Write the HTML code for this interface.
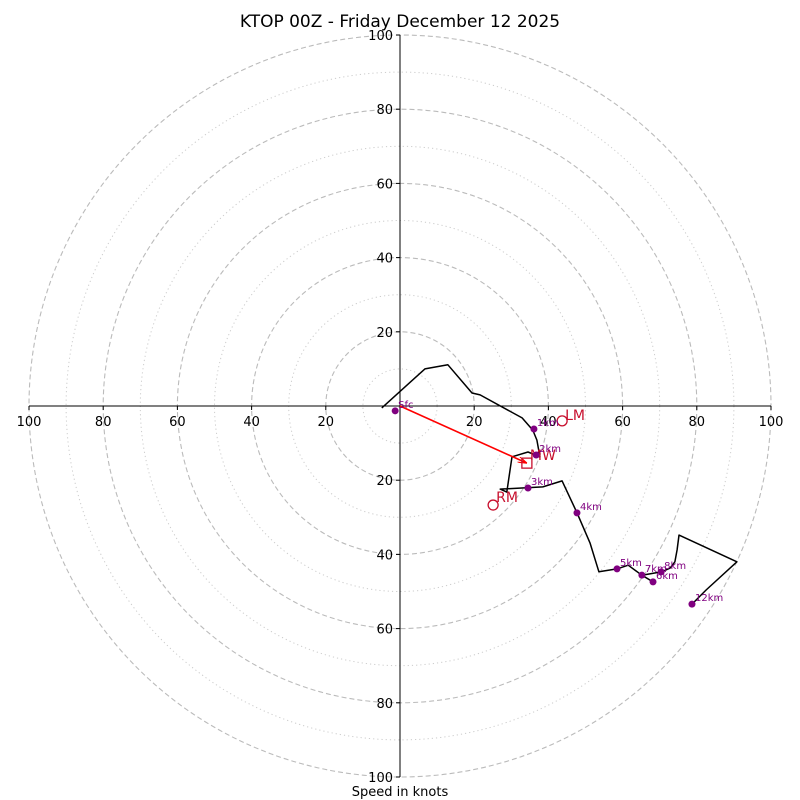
<!DOCTYPE html>
<html><head><meta charset="utf-8"><style>
body{margin:0;background:#fff;}
svg{display:block;font-family:"DejaVu Sans","Liberation Sans",sans-serif;}
</style></head><body>
<svg id="chart" width="800" height="800" viewBox="0 0 800 800" xmlns="http://www.w3.org/2000/svg">
<rect width="800" height="800" fill="#fff"/>
<text x="400" y="27" text-anchor="middle" font-size="17">KTOP 00Z - Friday December 12 2025</text>
<text x="400" y="796" text-anchor="middle" font-size="13">Speed in knots</text>
<g id="rings"></g><g id="axes"></g><g id="marks"></g>
</svg>
<script>
const ringValues=[10,20,30,40,50,60,70,80,90,100];
const tickLabels=[20,40,60,80,100];
const pathU=[-4.9,6.7,12.9,19.4,21.6,32.9,35.8,36.9,37.7,34.5,30.2,28.8,27.0,38.5,43.7,47.7,51.2,53.6,58.5,61.5,65.2,68.2,65.2,70.6,72.8,74.1,74.7,75.2,90.8,82.5,78.7];
const pathV=[-0.5,10.0,11.1,3.5,3.0,-3.2,-6.5,-9.2,-13.7,-12.4,-13.7,-23.2,-22.4,-21.8,-20.2,-28.8,-36.9,-44.7,-43.9,-42.9,-45.6,-47.4,-45.6,-44.7,-43.7,-42.0,-38.8,-34.8,-42.0,-49.6,-53.4];
const markerLabels=["Sfc","1km","2km","3km","4km","5km","6km","7km","8km","12km"];
const markerU=[-1.3,36.1,36.7,34.5,47.7,58.5,68.2,65.2,70.4,78.7];
const markerV=[-1.3,-6.2,-13.2,-22.1,-28.8,-43.9,-47.4,-45.6,-44.7,-53.4];
const lmUV=[43.7,-4.0], rmUV=[25.1,-26.7], mwUV=[34.2,-15.4];

const cx=400,cy=406,scale=3.71;
const X=u=>cx+u*scale, Y=v=>cy-v*scale;
const NS="http://www.w3.org/2000/svg";
function mk(tag,attrs,parent,txt){const e=document.createElementNS(NS,tag);for(const k in attrs)e.setAttribute(k,attrs[k]);if(txt!==undefined)e.textContent=txt;parent.appendChild(e);return e;}
const rings=document.getElementById('rings'),axes=document.getElementById('axes'),marks=document.getElementById('marks');

ringValues.forEach(r=>{
  const major=r%20===0;
  const c=mk('circle',{cx:cx,cy:cy,r:r*scale,fill:'none',stroke:major?'#bbb':'#ccc','stroke-width':major?1.1:1,'stroke-dasharray':major?'5,3':'1.2,3'},rings);
  
  
});
let l=mk('line',{x1:X(-100),y1:cy,x2:X(100),y2:cy,stroke:'#000','stroke-width':1},axes);


l=mk('line',{x1:cx,y1:Y(100),x2:cx,y2:Y(-100),stroke:'#000','stroke-width':1},axes);


tickLabels.forEach(t=>{
  [-1,1].forEach(s=>{
    mk('line',{x1:X(s*t),y1:cy,x2:X(s*t),y2:cy+4,stroke:'#000'},axes);
    let tx=mk('text',{x:X(s*t),y:cy+20,'text-anchor':'middle','font-size':13},axes,String(t));
    
    
    mk('line',{x1:cx-4,y1:Y(s*t),x2:cx,y2:Y(s*t),stroke:'#000'},axes);
    let ty=mk('text',{x:cx-7,y:Y(s*t)+5,'text-anchor':'end','font-size':13},axes,String(t));
    
    
  });
});
let pts=pathU.map((u,i)=>X(u).toFixed(1)+','+Y(pathV[i]).toFixed(1)).join(' ');
let pl=mk('polyline',{points:pts,fill:'none',stroke:'#000','stroke-width':1.5,'stroke-linejoin':'round'},marks);


mk('defs',{},marks).innerHTML='<marker id="ah" markerWidth="9" markerHeight="6" refX="9" refY="3" orient="auto" markerUnits="userSpaceOnUse"><path d="M0,0 L9,3 L0,6" fill="none" stroke="red" stroke-width="1.2"/></marker>';
let ar=mk('line',{x1:X(0),y1:Y(0),x2:X(mwUV[0]),y2:Y(mwUV[1]),stroke:'red','stroke-width':1.6,'marker-end':'url(#ah)'},marks);


const red='#c8102e';
let lm=mk('circle',{cx:X(lmUV[0]),cy:Y(lmUV[1]),r:5,fill:'none',stroke:red,'stroke-width':1.3},marks);


mk('text',{x:X(lmUV[0])+3,y:Y(lmUV[1])-1,'font-size':14,fill:red},marks,'LM');
let rm=mk('circle',{cx:X(rmUV[0]),cy:Y(rmUV[1]),r:5,fill:'none',stroke:red,'stroke-width':1.3},marks);


mk('text',{x:X(rmUV[0])+3,y:Y(rmUV[1])-3,'font-size':14,fill:red},marks,'RM');
let mw=mk('rect',{x:X(mwUV[0])-5,y:Y(mwUV[1])-5,width:10,height:10,fill:'none',stroke:red,'stroke-width':1.3},marks);


mk('text',{x:X(mwUV[0])+3,y:Y(mwUV[1])-3,'font-size':14,fill:red},marks,'MW');
markerLabels.forEach((lab,i)=>{
  const d=mk('circle',{cx:X(markerU[i]),cy:Y(markerV[i]),r:3.5,fill:'purple'},marks);
  
  
  const t=mk('text',{x:X(markerU[i])+3,y:Y(markerV[i])-3,'font-size':10,fill:'purple'},marks,lab);
  
  
});
</script>
</body></html>
